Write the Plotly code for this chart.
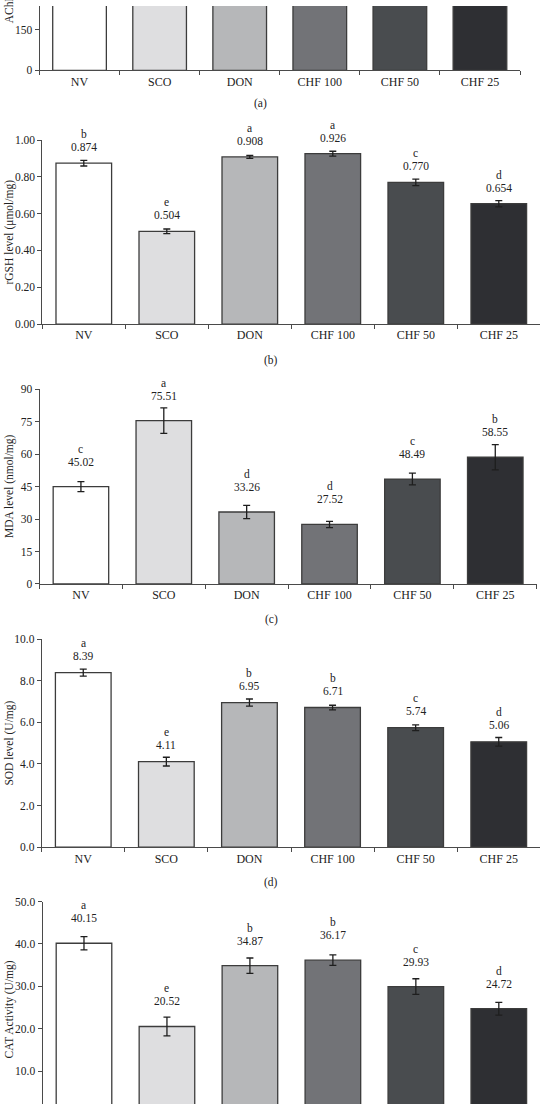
import plotly.graph_objects as go

# ---------------- data ----------------
categories = ["NV", "SCO", "DON", "CHF 100", "CHF 50", "CHF 25"]

# panel (a): only the lower part is visible in the reference (bars exceed the visible range)
ache_values = [420, 610, 390, 400, 470, 520]

gsh_values = [0.874, 0.504, 0.908, 0.926, 0.770, 0.654]
gsh_err = [0.015, 0.0125, 0.008, 0.013, 0.018, 0.017]
gsh_letters = ["b", "e", "a", "a", "c", "d"]
gsh_labels = ["0.874", "0.504", "0.908", "0.926", "0.770", "0.654"]

mda_values = [45.02, 75.51, 33.26, 27.52, 48.49, 58.55]
mda_err = [2.3, 5.9, 3.1, 1.45, 2.7, 5.8]
mda_letters = ["c", "a", "d", "d", "c", "b"]
mda_labels = ["45.02", "75.51", "33.26", "27.52", "48.49", "58.55"]

sod_values = [8.39, 4.11, 6.95, 6.71, 5.74, 5.06]
sod_err = [0.17, 0.21, 0.17, 0.11, 0.14, 0.21]
sod_letters = ["a", "e", "b", "b", "c", "d"]
sod_labels = ["8.39", "4.11", "6.95", "6.71", "5.74", "5.06"]

cat_values = [40.15, 20.52, 34.87, 36.17, 29.93, 24.72]
cat_err = [1.55, 2.2, 1.8, 1.25, 1.85, 1.5]
cat_letters = ["a", "e", "b", "b", "c", "d"]
cat_labels = ["40.15", "20.52", "34.87", "36.17", "29.93", "24.72"]

# ---------------- style ----------------
W, H = 542, 1110
FONT = "Liberation Serif"
TXT = "#222222"
AX = "#4a4a4a"
bar_colors = ["#ffffff", "#dedee0", "#b6b7b9", "#727377", "#494c4f", "#2e2f33"]


def px_x(v):
    return v / W


def px_y(v):
    return 1 - v / H


# layout per panel (pixel geometry)
panels = [
    dict(key="a", values=ache_values, err=None, letters=None, labels=None,
         x0=39.5, x1=520, ytop=0, ybot=65, rng=[0, 150 * 65 / 41], dtick=150, fmt="d",
         title="AChE activity (U/mg)", sub="(a)", subx=260, suby=99, off=0, showx=True),
    dict(key="b", values=gsh_values, err=gsh_err, letters=gsh_letters, labels=gsh_labels,
         x0=42.3, x1=540.3, ytop=135.5, ybot=321.5, rng=[0, 1.0], dtick=0.2, fmt=".2f",
         title="rGSH level (\u03bcmol/mg)", sub="(b)", subx=271, suby=358, off=16, showx=True),
    dict(key="c", values=mda_values, err=mda_err, letters=mda_letters, labels=mda_labels,
         x0=39.5, x1=536.7, ytop=387.4, ybot=584.3, rng=[0, 90], dtick=15, fmt="d",
         title="MDA level (nmol/mg)", sub="(c)", subx=271, suby=620, off=25, showx=True),
    dict(key="d", values=sod_values, err=sod_err, letters=sod_letters, labels=sod_labels,
         x0=41.7, x1=540.3, ytop=640, ybot=850.3, rng=[0, 10], dtick=2, fmt=".1f",
         title="SOD level (U/mg)", sub="(d)", subx=271, suby=886, off=17, showx=True),
    dict(key="e", values=cat_values, err=cat_err, letters=cat_letters, labels=cat_labels,
         x0=42.5, x1=540.3, ytop=905.3, ybot=1110, rng=[(1119.6 - 1110) / 4.29, 50], dtick=10, fmt=".1f",
         title="CAT Activity (U/mg)", sub=None, subx=0, suby=0, off=25, showx=False),
]

fig = go.Figure()
annotations = []
layout_axes = {}

for i, p in enumerate(panels, start=1):
    xa = "x" if i == 1 else f"x{i}"
    ya = "y" if i == 1 else f"y{i}"
    xkey = "xaxis" if i == 1 else f"xaxis{i}"
    ykey = "yaxis" if i == 1 else f"yaxis{i}"

    if p["err"] is not None:
        err_dict = dict(type="data", array=p["err"], visible=True,
                        color="#1e1e1e", thickness=1.3, width=3.5)
    else:
        err_dict = dict(visible=False)

    fig.add_trace(go.Bar(
        x=categories, y=p["values"], xaxis=xa, yaxis=ya,
        marker=dict(color=bar_colors, line=dict(color="#3c3c3c", width=1.3)),
        width=0.67, error_y=err_dict, showlegend=False, hoverinfo="skip",
    ))

    layout_axes[xkey] = dict(
        domain=[px_x(p["x0"]), px_x(p["x1"])], anchor=ya, type="category",
        categoryorder="array", categoryarray=categories, range=[-0.5, 5.5],
        showline=p["showx"], linecolor=AX, linewidth=1,
        ticks="outside" if p["showx"] else "", tickson="boundaries", ticklen=4,
        tickcolor=AX, showticklabels=p["showx"], showgrid=False, zeroline=False,
        tickfont=dict(family=FONT, size=12, color=TXT), fixedrange=True,
    )
    layout_axes[ykey] = dict(
        domain=[px_y(p["ybot"]), px_y(p["ytop"])], anchor=xa, range=p["rng"],
        tick0=0, dtick=p["dtick"], tickformat=p["fmt"],
        showline=True, linecolor=AX, linewidth=1, ticks="outside", ticklen=4,
        tickcolor=AX, showgrid=False, zeroline=False,
        tickfont=dict(family=FONT, size=11.5, color=TXT), fixedrange=True,
    )

    # y-axis title
    ycen = (p["ytop"] + p["ybot"]) / 2
    if p["key"] == "a":
        annotations.append(dict(
            text=p["title"], xref="paper", yref="paper", x=px_x(9), y=px_y(20),
            xanchor="center", yanchor="bottom", textangle=-90, showarrow=False,
            font=dict(family=FONT, size=11.5, color=TXT)))
    else:
        if p["key"] == "e":
            ycen = 1015
        annotations.append(dict(
            text=p["title"], xref="paper", yref="paper", x=px_x(9.5), y=px_y(ycen),
            xanchor="center", yanchor="middle", textangle=-90, showarrow=False,
            font=dict(family=FONT, size=11.5, color=TXT)))

    # sub-panel label
    if p["sub"]:
        annotations.append(dict(
            text=p["sub"], xref="paper", yref="paper", x=px_x(p["subx"]), y=px_y(p["suby"]),
            xanchor="center", yanchor="middle", showarrow=False,
            font=dict(family=FONT, size=11.5, color=TXT)))

    # value and letter labels above bars
    if p["labels"]:
        for c, v, lab, let in zip(categories, p["values"], p["labels"], p["letters"]):
            annotations.append(dict(
                text=lab, xref=xa, yref=ya, x=c, y=v, yshift=p["off"],
                xanchor="center", yanchor="middle", showarrow=False,
                font=dict(family=FONT, size=11.5, color=TXT)))
            annotations.append(dict(
                text=let, xref=xa, yref=ya, x=c, y=v, yshift=p["off"] + 13,
                xanchor="center", yanchor="middle", showarrow=False,
                font=dict(family=FONT, size=11.5, color=TXT)))

fig.update_layout(
    width=W, height=H, autosize=False,
    margin=dict(l=0, r=0, t=0, b=0, pad=0),
    paper_bgcolor="white", plot_bgcolor="white",
    bargap=0.33, annotations=annotations,
    **layout_axes,
)

fig.write_html("out.html", config={"displayModeBar": False},
               post_script="document.body.style.margin='0';document.body.style.overflow='hidden';")
